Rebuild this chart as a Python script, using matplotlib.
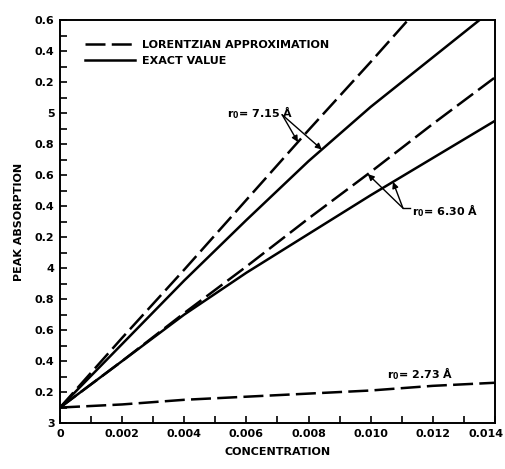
import numpy as np
import matplotlib
matplotlib.use("Agg")
import matplotlib.pyplot as plt
from matplotlib.ticker import FixedLocator, FixedFormatter, MultipleLocator
from matplotlib.transforms import ScaledTranslation

plt.rcParams["font.family"] = ["DejaVu Sans"]
plt.rcParams["font.weight"] = "bold"
plt.rcParams["mathtext.default"] = "bf"

# concentration grid for the curves
conc = [0.0, 0.002, 0.004, 0.006, 0.008, 0.010, 0.012, 0.014]

# r0 = 7.15 A
lor_715_x = [0.0, 0.002, 0.004, 0.006, 0.008, 0.010, 0.0112]
lor_715_y = [3.10, 3.55, 3.99, 4.44, 4.89, 5.33, 5.60]
exact_715_x = [0.0, 0.002, 0.004, 0.006, 0.008, 0.010, 0.012, 0.0135]
exact_715_y = [3.10, 3.51, 3.92, 4.31, 4.69, 5.04, 5.36, 5.60]

# r0 = 6.30 A
lor_630_y = [3.10, 3.40, 3.71, 4.01, 4.32, 4.62, 4.93, 5.23]
exact_630_y = [3.10, 3.40, 3.70, 3.97, 4.22, 4.47, 4.71, 4.95]

# r0 = 2.73 A
lor_273_y = [3.10, 3.12, 3.15, 3.17, 3.19, 3.21, 3.24, 3.26]

x_ticks = [0.0, 0.002, 0.004, 0.006, 0.008, 0.010, 0.012, 0.014]
x_tick_labels = ["0", "0.002", "0.004", "0.006", "0.008", "0.010", "0.012", "0.014"]
y_ticks = [3.0, 3.2, 3.4, 3.6, 3.8, 4.0, 4.2, 4.4, 4.6, 4.8, 5.0, 5.2, 5.4, 5.6]
y_tick_labels = ["3", "0.2", "0.4", "0.6", "0.8", "4", "0.2", "0.4", "0.6", "0.8",
                 "5", "0.2", "0.4", "0.6"]

DASH = (8, 2.5)
LW = 1.8

fig = plt.figure(figsize=(5.06, 4.69), dpi=100)
ax = fig.add_axes([0.1186, 0.098, 0.978 - 0.1186, 0.957 - 0.098])

ax.plot(lor_715_x, lor_715_y, color="black", lw=LW, dashes=DASH,
        label="LORENTZIAN APPROXIMATION")
ax.plot(exact_715_x, exact_715_y, color="black", lw=LW, label="EXACT VALUE")
ax.plot(conc, lor_630_y, color="black", lw=LW, dashes=DASH)
ax.plot(conc, exact_630_y, color="black", lw=LW)
ax.plot(conc, lor_273_y, color="black", lw=LW, dashes=DASH)

ax.set_xlim(0, 0.014)
ax.set_ylim(3.0, 5.6)
ax.xaxis.set_major_locator(FixedLocator(x_ticks))
ax.xaxis.set_major_formatter(FixedFormatter(x_tick_labels))
ax.xaxis.set_minor_locator(MultipleLocator(0.001))
ax.yaxis.set_major_locator(FixedLocator(y_ticks))
ax.yaxis.set_major_formatter(FixedFormatter(y_tick_labels))
ax.yaxis.set_minor_locator(MultipleLocator(0.1))
ax.tick_params(which="both", direction="in", length=5, width=1.2,
               labelsize=8, pad=4)
for spine in ax.spines.values():
    spine.set_linewidth(1.4)

# keep the last x label inside the figure
last = ax.get_xticklabels()[-1]
last.set_transform(last.get_transform() + ScaledTranslation(-6 / 72, 0, fig.dpi_scale_trans))

ax.set_xlabel("CONCENTRATION", fontsize=8, fontweight="bold", labelpad=6)
ax.set_ylabel("PEAK ABSORPTION", fontsize=8, fontweight="bold", labelpad=8)

ax.legend(loc="upper left", frameon=False, fontsize=8, handlelength=4.5,
          bbox_to_anchor=(0.035, 0.975), handletextpad=0.6, labelspacing=0.5)

arrow = dict(arrowstyle="-|>", color="black", lw=1.0, mutation_scale=9,
             shrinkA=0, shrinkB=0)

# r0 = 7.15 label with two arrows
ax.text(0.00537, 5.006, "r$_0$= 7.15 Å", fontsize=8, va="center", ha="left")
for xs, ys, xt in [(lor_715_x, lor_715_y, 0.00766), (exact_715_x, exact_715_y, 0.00843)]:
    ax.annotate("", xy=(xt, np.interp(xt, xs, ys)), xytext=(0.00715, 4.99),
                arrowprops=arrow)

# r0 = 6.30 label with two arrows
ax.text(0.01133, 4.374, "r$_0$= 6.30 Å", fontsize=8, va="center", ha="left")
ax.plot([0.01104, 0.01128], [4.387, 4.387], color="black", lw=1.0)
for ys, xt in [(lor_630_y, 0.00991), (exact_630_y, 0.01072)]:
    ax.annotate("", xy=(xt, np.interp(xt, conc, ys)), xytext=(0.01104, 4.387),
                arrowprops=arrow)

# r0 = 2.73 label
ax.text(0.01052, 3.32, "r$_0$= 2.73 Å", fontsize=8, va="center", ha="left")

fig.savefig("out.png", dpi=100)
